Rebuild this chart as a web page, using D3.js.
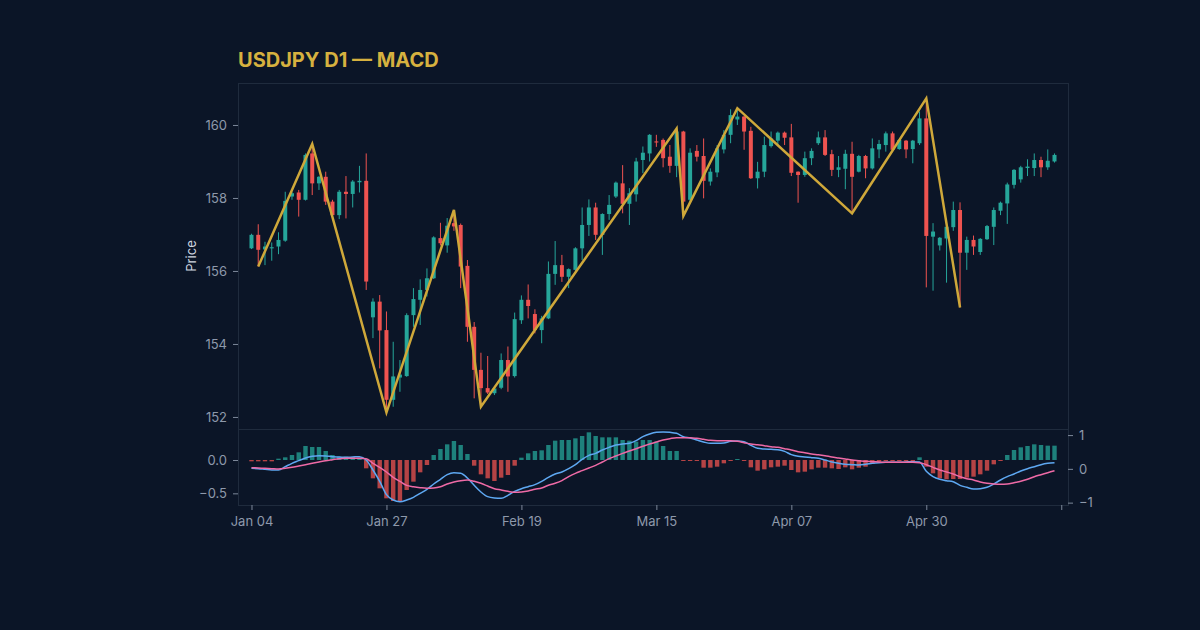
<!DOCTYPE html>
<html>
<head>
<meta charset="utf-8">
<script src="https://cdn.jsdelivr.net/npm/d3@7"></script>
<style>
  html, body { margin: 0; padding: 0; background: #0b1527; }
  svg text { font-family: Inter, "Noto Sans", sans-serif; }
  .axis text { fill: #8e99ab; font-size: 13px; }
  .axis line { stroke: #7d889a; }
  .axis path { display: none; }
</style>
</head>
<body>
<div id="chart"></div>
<script>

// Daily bars, index 0 = Jan 04
var opens  = [156.62,156.99,156.59,156.62,156.67,156.83,158.04,158.15,157.95,159.22,
              158.40,158.58,157.90,157.53,158.17,158.11,158.43,158.47,154.73,155.16,
              154.38,152.47,153.08,153.12,154.79,155.21,155.48,155.80,156.90,156.70,
              157.31,157.26,156.14,154.47,153.29,152.79,152.65,152.80,153.56,153.12,
              154.65,155.21,154.82,154.38,154.70,155.92,156.16,155.84,156.03,156.62,
              157.26,157.74,156.99,157.56,158.04,158.40,157.84,158.10,159.04,159.22,
              159.55,159.59,159.13,158.88,159.82,157.95,159.29,159.15,158.45,158.70,
              159.33,159.73,160.15,160.23,159.84,158.54,158.72,159.42,159.57,159.79,
              159.66,158.72,158.63,159.09,159.50,159.66,159.20,158.77,158.80,159.21,
              158.72,159.15,158.81,159.33,159.45,159.77,159.34,159.57,159.34,159.50,
              160.18,156.94,156.70,156.89,157.20,157.67,156.50,156.85,156.52,156.87,
              157.21,157.65,157.85,158.36,158.51,158.82,158.82,159.04,158.84,159.00];
var highs  = [157.02,157.28,156.80,156.78,157.06,158.17,158.17,158.22,159.22,159.48,
              158.60,158.72,157.95,158.22,158.60,158.49,158.88,159.22,155.25,155.34,
              154.89,154.06,153.56,154.84,155.53,155.77,156.07,156.95,157.32,157.45,
              157.67,157.30,156.30,154.60,153.76,153.67,152.80,153.74,153.93,154.86,
              155.33,155.63,154.95,154.77,156.26,156.82,156.44,156.07,156.65,157.74,
              157.96,157.87,157.58,158.08,158.45,158.90,158.27,159.10,159.41,159.75,
              159.73,159.63,159.45,159.90,159.84,159.36,159.45,159.63,158.81,159.45,
              159.86,160.43,160.46,160.25,159.95,158.99,159.68,159.82,159.82,159.82,
              160.03,158.73,159.27,159.36,159.82,159.86,159.32,159.15,159.32,159.54,
              159.18,159.18,159.63,159.59,159.82,159.82,159.60,159.59,159.59,160.37,
              160.73,157.31,156.93,157.31,157.90,157.88,156.94,156.97,156.90,157.26,
              157.74,157.90,158.42,158.79,158.88,159.06,159.22,159.13,159.33,159.22];
var lows   = [156.60,156.12,156.16,156.28,156.46,156.80,157.95,157.49,157.93,158.08,
              158.22,157.81,157.50,157.42,157.44,157.74,158.15,155.48,154.16,153.33,
              152.12,152.28,152.69,153.10,154.47,154.52,155.30,155.78,156.70,156.50,
              157.10,155.53,154.06,152.51,152.28,152.63,152.60,152.76,152.69,153.08,
              154.55,154.70,154.29,154.02,154.68,155.62,155.70,155.53,156.00,156.30,
              156.96,156.85,156.44,157.40,158.00,157.58,157.26,157.90,158.68,159.00,
              159.40,158.84,158.69,158.57,157.51,157.88,159.00,157.99,158.34,158.57,
              159.22,159.50,160.00,159.32,158.52,158.26,158.57,159.38,159.42,159.45,
              158.60,157.87,158.58,158.90,159.45,159.15,158.60,158.57,158.24,157.58,
              158.70,158.54,158.78,159.09,159.27,159.27,159.32,159.09,158.95,159.45,
              155.55,155.46,156.56,155.68,157.10,155.00,156.03,156.44,156.44,156.85,
              156.71,157.53,157.29,158.26,158.42,158.60,158.60,158.57,158.77,158.97];
var closes = [156.99,156.58,156.67,156.65,156.85,157.92,158.13,157.95,159.18,158.40,
              158.58,157.90,157.53,158.17,158.11,158.45,158.47,155.71,155.16,154.37,
              152.47,153.11,153.16,154.79,155.23,155.48,155.80,156.92,156.76,157.24,
              157.22,156.12,154.47,153.29,152.79,152.67,152.78,153.56,153.11,154.68,
              155.21,155.04,154.38,154.70,155.92,156.16,155.84,156.05,156.62,157.26,
              157.74,156.99,157.56,157.81,158.42,157.84,158.13,159.00,159.24,159.73,
              159.52,159.09,158.88,159.82,157.90,159.24,159.13,158.47,158.72,159.36,
              159.73,160.27,160.23,159.82,158.54,158.72,159.45,159.63,159.79,159.65,
              158.69,158.63,159.09,159.29,159.66,159.18,158.77,158.84,159.21,158.58,
              159.15,158.81,159.36,159.48,159.77,159.32,159.59,159.33,159.57,160.18,
              156.96,157.08,156.91,157.21,157.67,156.50,156.85,156.67,156.88,157.23,
              157.67,157.87,158.37,158.77,158.84,158.86,159.04,158.84,159.02,159.18];

// MACD panel
var macdLine   = [-0.125,-0.13,-0.14,-0.15,-0.15,-0.10,-0.05,-0.01,0.03,0.055,
                  0.065,0.06,0.05,0.045,0.04,0.045,0.05,0.0,-0.15,-0.32,
                  -0.52,-0.60,-0.625,-0.60,-0.56,-0.50,-0.44,-0.36,-0.29,-0.22,
                  -0.19,-0.20,-0.27,-0.38,-0.48,-0.55,-0.57,-0.575,-0.53,-0.47,
                  -0.43,-0.40,-0.37,-0.32,-0.26,-0.21,-0.18,-0.13,-0.07,0.01,
                  0.07,0.10,0.15,0.19,0.225,0.24,0.25,0.29,0.35,0.39,
                  0.415,0.42,0.415,0.40,0.35,0.33,0.30,0.27,0.25,0.25,
                  0.255,0.28,0.285,0.275,0.22,0.175,0.165,0.16,0.155,0.13,
                  0.08,0.055,0.045,0.035,0.025,0.0,-0.03,-0.05,-0.065,-0.07,
                  -0.075,-0.065,-0.05,-0.04,-0.035,-0.035,-0.035,-0.03,-0.025,-0.03,
                  -0.17,-0.25,-0.29,-0.31,-0.325,-0.38,-0.41,-0.435,-0.43,-0.41,
                  -0.36,-0.30,-0.25,-0.21,-0.165,-0.13,-0.10,-0.07,-0.05,-0.04];
var signalLine = [-0.115,-0.12,-0.125,-0.13,-0.135,-0.125,-0.11,-0.09,-0.07,-0.05,
                  -0.03,-0.01,0.005,0.02,0.025,0.025,0.025,0.02,-0.05,-0.11,
                  -0.18,-0.26,-0.32,-0.38,-0.40,-0.415,-0.425,-0.42,-0.40,-0.36,
                  -0.33,-0.31,-0.30,-0.32,-0.35,-0.39,-0.43,-0.45,-0.47,-0.485,
                  -0.48,-0.465,-0.44,-0.42,-0.38,-0.35,-0.31,-0.25,-0.20,-0.16,
                  -0.12,-0.08,-0.03,0.02,0.06,0.10,0.135,0.17,0.205,0.24,
                  0.27,0.30,0.32,0.335,0.335,0.335,0.325,0.31,0.295,0.29,
                  0.29,0.29,0.28,0.26,0.24,0.23,0.215,0.20,0.19,0.17,
                  0.15,0.125,0.11,0.09,0.08,0.065,0.045,0.03,0.015,0.0,
                  -0.01,-0.02,-0.025,-0.03,-0.035,-0.035,-0.035,-0.035,-0.035,-0.04,
                  -0.07,-0.11,-0.15,-0.18,-0.21,-0.25,-0.28,-0.30,-0.33,-0.35,
                  -0.36,-0.365,-0.36,-0.34,-0.32,-0.29,-0.25,-0.22,-0.19,-0.16];
var histogram  = [-0.02,-0.02,-0.02,-0.02,0.02,0.04,0.075,0.115,0.21,0.195,
                  0.195,0.135,0.075,0.05,0.05,0.045,0.035,-0.125,-0.275,-0.425,
                  -0.575,-0.615,-0.615,-0.45,-0.325,-0.185,-0.075,0.075,0.165,0.235,
                  0.285,0.225,0.09,-0.085,-0.215,-0.275,-0.315,-0.265,-0.225,-0.085,
                  0.035,0.10,0.135,0.145,0.225,0.29,0.30,0.30,0.325,0.36,
                  0.415,0.36,0.34,0.34,0.34,0.30,0.29,0.275,0.30,0.30,
                  0.275,0.21,0.135,0.135,-0.005,-0.015,-0.01,-0.115,-0.115,-0.10,
                  -0.05,-0.01,0.015,-0.005,-0.11,-0.16,-0.14,-0.11,-0.10,-0.085,
                  -0.15,-0.185,-0.175,-0.14,-0.115,-0.115,-0.125,-0.135,-0.11,-0.14,
                  -0.115,-0.10,-0.06,-0.025,-0.015,-0.01,-0.005,-0.005,-0.005,0.04,
                  -0.10,-0.20,-0.275,-0.29,-0.285,-0.285,-0.265,-0.25,-0.215,-0.16,
                  -0.065,-0.01,0.075,0.15,0.19,0.21,0.235,0.225,0.215,0.215];

// Zigzag swing points (bar index, price)
var zigzagIdx   = [1, 9, 20, 30, 34, 63, 64, 72, 89, 100, 105];
var zigzagPrice = [156.12, 159.48, 152.12, 157.67, 152.28, 159.90, 157.51, 160.46, 157.58, 160.73, 155.00];

// x axis: a tick every 20 bars
var tickIdx    = [0, 20, 40, 60, 80, 100, 120];
var tickLabels = ['Jan 04', 'Jan 27', 'Feb 19', 'Mar 15', 'Apr 07', 'Apr 30', ''];

var priceTicks = [152, 154, 156, 158, 160];
var macdTicks  = [-0.5, 0];
var histTicks  = [-1, 0, 1];

var W = 1200, H = 630;
var left = 238, right = 1068;
var priceTop = 83, priceBottom = 429, macdBottom = 505;

var upColor = '#26a69a', downColor = '#ef5350';

var svg = d3.select( '#chart' )
            .append( 'svg' )
            .attr( 'width', W )
            .attr( 'height', H )
            .style( 'display', 'block' );

svg.append( 'rect' )
   .attr( 'width', W )
   .attr( 'height', H )
   .attr( 'fill', '#0b1527' );

// Scales
var x = d3.scaleLinear().domain( [-2, 121] ).range( [left, right] );
var yPrice = d3.scaleLinear().domain( [151.67, 161.15] ).range( [priceBottom, priceTop] );
var yMacd = d3.scaleLinear().domain( [-0.675, 0.465] ).range( [macdBottom, priceBottom] );
var yHist = d3.scaleLinear().domain( [-1.07, 1.18] ).range( [macdBottom, priceBottom] );

// Panel frames
svg.append( 'rect' )
   .attr( 'x', left + 0.5 )
   .attr( 'y', priceTop + 0.5 )
   .attr( 'width', right - left )
   .attr( 'height', priceBottom - priceTop )
   .attr( 'fill', 'none' )
   .attr( 'stroke', '#1f2b3d' );

svg.append( 'rect' )
   .attr( 'x', left + 0.5 )
   .attr( 'y', priceBottom + 0.5 )
   .attr( 'width', right - left )
   .attr( 'height', macdBottom - priceBottom )
   .attr( 'fill', 'none' )
   .attr( 'stroke', '#1f2b3d' );

// Title
svg.append( 'text' )
   .attr( 'x', left )
   .attr( 'y', 67 )
   .attr( 'fill', '#d6b13f' )
   .style( 'font-size', '20px' )
   .style( 'font-weight', 700 )
   .text( 'USDJPY D1 \u2014 MACD' );

// Axes
svg.append( 'g' )
   .attr( 'class', 'axis' )
   .attr( 'transform', 'translate(' + left + ',0)' )
   .call( d3.axisLeft( yPrice ).tickValues( priceTicks ).tickSize( 5 ).tickPadding( 6 ).tickFormat( d3.format( 'd' ) ) );

svg.append( 'g' )
   .attr( 'class', 'axis' )
   .attr( 'transform', 'translate(' + left + ',0)' )
   .call( d3.axisLeft( yMacd ).tickValues( macdTicks ).tickSize( 5 ).tickPadding( 6 ).tickFormat( d3.format( '.1f' ) ) );

svg.append( 'g' )
   .attr( 'class', 'axis' )
   .attr( 'transform', 'translate(' + right + ',0)' )
   .call( d3.axisRight( yHist ).tickValues( histTicks ).tickSize( 5 ).tickPadding( 6 ).tickFormat( d3.format( 'd' ) ) );

svg.append( 'g' )
   .attr( 'class', 'axis' )
   .attr( 'transform', 'translate(0,' + macdBottom + ')' )
   .call( d3.axisBottom( x ).tickValues( tickIdx ).tickSize( 5 ).tickPadding( 7 )
          .tickFormat( function ( d, i ) { return tickLabels[i]; } ) );

svg.selectAll( '.axis text' ).style( 'font-family', 'Inter, sans-serif' );
svg.selectAll( '.axis text' ).attr( 'fill', '#8e99ab' );

svg.append( 'text' )
   .attr( 'transform', 'translate(196,' + ( ( priceTop + priceBottom ) / 2 ) + ') rotate(-90)' )
   .attr( 'text-anchor', 'middle' )
   .attr( 'fill', '#cfd6e0' )
   .style( 'font-size', '13px' )
   .text( 'Price' );

// Candles
var bars = d3.range( closes.length );
var bw = 4;

var candles = svg.append( 'g' ).selectAll( 'g' )
                 .data( bars ).enter()
                 .append( 'g' );

candles.append( 'line' )
       .attr( 'x1', function ( i ) { return x( i ); } )
       .attr( 'x2', function ( i ) { return x( i ); } )
       .attr( 'y1', function ( i ) { return yPrice( highs[i] ); } )
       .attr( 'y2', function ( i ) { return yPrice( lows[i] ); } )
       .attr( 'stroke', function ( i ) { return closes[i] >= opens[i] ? upColor : downColor; } )
       .attr( 'stroke-width', 1 );

candles.append( 'rect' )
       .attr( 'x', function ( i ) { return x( i ) - bw / 2; } )
       .attr( 'width', bw )
       .attr( 'y', function ( i ) { return yPrice( Math.max( opens[i], closes[i] ) ); } )
       .attr( 'height', function ( i ) { return Math.max( 1, Math.abs( yPrice( opens[i] ) - yPrice( closes[i] ) ) ); } )
       .attr( 'fill', function ( i ) { return closes[i] >= opens[i] ? upColor : downColor; } );

// Zigzag
var zz = d3.line()
           .x( function ( d ) { return x( d[0] ); } )
           .y( function ( d ) { return yPrice( d[1] ); } );

svg.append( 'path' )
   .datum( d3.zip( zigzagIdx, zigzagPrice ) )
   .attr( 'd', zz )
   .attr( 'fill', 'none' )
   .attr( 'stroke', '#cfa83a' )
   .attr( 'stroke-width', 2.5 )
   .attr( 'stroke-linejoin', 'miter' );

// Histogram
svg.append( 'g' ).selectAll( 'rect' )
   .data( bars ).enter()
   .append( 'rect' )
   .attr( 'x', function ( i ) { return x( i ) - 2.2; } )
   .attr( 'width', 4.4 )
   .attr( 'y', function ( i ) { return Math.min( yMacd( 0 ), yMacd( histogram[i] ) ); } )
   .attr( 'height', function ( i ) { return Math.max( 1, Math.abs( yMacd( histogram[i] ) - yMacd( 0 ) ) ); } )
   .attr( 'fill', function ( i ) { return histogram[i] >= 0 ? '#26a69a' : '#ef5350'; } )
   .attr( 'opacity', 0.75 );

var macdPath = d3.line()
                 .x( function ( d, i ) { return x( i ); } )
                 .y( function ( d ) { return yMacd( d ); } )
                 .curve( d3.curveMonotoneX );

svg.append( 'path' )
   .datum( macdLine )
   .attr( 'd', macdPath )
   .attr( 'fill', 'none' )
   .attr( 'stroke', '#5ea8f2' )
   .attr( 'stroke-width', 1.5 );

svg.append( 'path' )
   .datum( signalLine )
   .attr( 'd', macdPath )
   .attr( 'fill', 'none' )
   .attr( 'stroke', '#ef6aa6' )
   .attr( 'stroke-width', 1.5 );

</script>
</body>
</html>
